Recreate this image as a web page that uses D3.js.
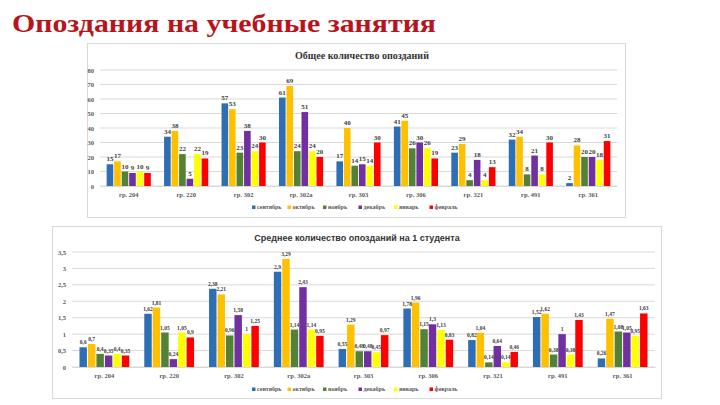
<!DOCTYPE html>
<html>
<head>
<meta charset="utf-8">
<script src="https://cdn.jsdelivr.net/npm/d3@7"></script>
<style>
  body { margin: 0; background: #fff; }
  svg { display: block; }
  .serif { font-family: "Liberation Serif", "DejaVu Serif", "Noto Serif", Tinos, "Times New Roman", Times, serif; }
  .sans { font-family: "Liberation Sans", "DejaVu Sans", sans-serif; }
</style>
</head>
<body>
<svg id="chart" width="720" height="405"></svg>
<script>
// data
const groups = ["гр. 204", "гр. 220", "гр. 302", "гр. 302а", "гр. 303", "гр. 306", "гр. 321", "гр. 491", "гр. 361"];
const months = ["сентябрь", "октябрь", "ноябрь", "декабрь", "январь", "февраль"];
const colors = ["#2e6eb5", "#ffc000", "#548235", "#7030a0", "#ffff00", "#ff0000"];

// total lates, one row per group, months in order
const totals = [
  [15, 17, 10, 9, 10, 9],
  [34, 38, 22, 5, 22, 19],
  [57, 53, 23, 38, 24, 30],
  [61, 69, 24, 51, 24, 20],
  [17, 40, 14, 15, 14, 30],
  [41, 45, 26, 30, 26, 19],
  [23, 29, 4, 18, 4, 13],
  [32, 34, 8, 21, 8, 30],
  [2, 28, 20, 20, 18, 31]
];
const totalTicks = [0, 10, 20, 30, 40, 50, 60, 70, 80];

// average lates per student
const averages = [
  [0.6, 0.7, 0.4, 0.35, 0.4, 0.35],
  [1.62, 1.81, 1.05, 0.24, 1.05, 0.9],
  [2.38, 2.21, 0.96, 1.58, 1, 1.25],
  [2.9, 3.29, 1.14, 2.43, 1.14, 0.95],
  [0.55, 1.29, 0.48, 0.48, 0.45, 0.97],
  [1.78, 1.96, 1.15, 1.3, 1.13, 0.83],
  [0.82, 1.04, 0.14, 0.64, 0.14, 0.46],
  [1.52, 1.62, 0.38, 1, 0.38, 1.43],
  [0.26, 1.47, 1.08, 1.05, 0.95, 1.63]
];
const avgTicks = [0, 0.5, 1, 1.5, 2, 2.5, 3, 3.5];

const svg = d3.select("#chart");
const comma = v => String(v).replace(".", ",");

// page heading, stretched to the width it has in the slide
svg.append("text")
  .attr("class", "serif")
  .attr("x", 12).attr("y", 32)
  .attr("font-weight", "bold")
  .attr("font-size", 25)
  .attr("textLength", 424)
  .attr("lengthAdjust", "spacingAndGlyphs")
  .attr("fill", "#b8141c")
  .text("Опоздания на учебные занятия");

function drawChart(cfg) {
  const g = svg.append("g");

  // frame
  g.append("rect")
    .attr("x", cfg.box[0]).attr("y", cfg.box[1])
    .attr("width", cfg.box[2]).attr("height", cfg.box[3])
    .attr("fill", "#fff").attr("stroke", "#d9d9d9");

  g.append("text")
    .attr("class", cfg.titleClass)
    .attr("x", cfg.titleX).attr("y", cfg.titleY)
    .attr("text-anchor", "middle")
    .attr("font-weight", "bold")
    .attr("font-size", cfg.titleSize)
    .attr("fill", "#333")
    .text(cfg.title);

  const x = d3.scaleBand().domain(groups).range([cfg.left, cfg.right]).paddingInner(0.2).paddingOuter(0.1);
  const xm = d3.scaleBand().domain(months).range([0, x.bandwidth()]).padding(0.12);
  const y = d3.scaleLinear().domain([0, cfg.max]).range([cfg.bottom, cfg.top]);

  // grid
  g.selectAll(".grid").data(cfg.ticks).enter().append("line")
    .attr("x1", cfg.left).attr("x2", cfg.right)
    .attr("y1", d => y(d)).attr("y2", d => y(d))
    .attr("stroke", "#d9d9d9").attr("stroke-width", 1);

  // y axis labels
  const ya = g.append("g").attr("transform", `translate(${cfg.left},0)`)
    .call(d3.axisLeft(y).tickValues(cfg.ticks).tickSize(0).tickPadding(6).tickFormat(cfg.fmt));
  ya.select(".domain").remove();
  ya.attr("font-family", null);
  ya.selectAll("text").attr("class", "serif").attr("font-weight", "bold")
    .attr("font-size", 6.5).attr("fill", "#595959");

  // x axis labels
  const xa = g.append("g").attr("transform", `translate(0,${cfg.bottom})`)
    .call(d3.axisBottom(x).tickSize(0).tickPadding(6));
  xa.select(".domain").attr("stroke", "#d9d9d9");
  xa.attr("font-family", null);
  xa.selectAll("text").attr("class", "serif").attr("font-weight", "bold")
    .attr("font-size", 6.5).attr("fill", "#595959");

  // bars
  const grp = g.selectAll(".grp").data(cfg.data).enter().append("g")
    .attr("transform", (d, i) => `translate(${x(groups[i])},0)`);

  grp.selectAll("rect").data(d => d.map((v, j) => ({ v, j }))).enter().append("rect")
    .attr("x", d => xm(months[d.j]))
    .attr("y", d => y(d.v))
    .attr("width", xm.bandwidth())
    .attr("height", d => cfg.bottom - y(d.v))
    .attr("fill", d => colors[d.j]);

  grp.selectAll(".lbl").data(d => d.map((v, j) => ({ v, j }))).enter().append("text")
    .attr("class", "serif")
    .attr("x", d => xm(months[d.j]) + xm.bandwidth() / 2)
    .attr("y", d => y(d.v) - 3)
    .attr("text-anchor", "middle")
    .attr("font-weight", "bold")
    .attr("font-size", cfg.labelSize)
    .attr("fill", "#404040")
    .text(d => cfg.fmt(d.v));

  // legend
  const lg = g.append("g").attr("transform", `translate(252,${cfg.legendY})`);
  const item = lg.selectAll("g").data(months).enter().append("g")
    .attr("transform", (d, i) => `translate(${i * 35.5},0)`);
  item.append("rect").attr("x", 0).attr("y", -3.5).attr("width", 3.5).attr("height", 3.5)
    .attr("fill", (d, i) => colors[i]);
  item.append("text").attr("class", "serif").attr("x", 5).attr("y", 0)
    .attr("font-weight", "bold")
    .attr("font-size", 6).attr("fill", "#595959")
    .text(d => d);
}

drawChart({
  box: [87.5, 43.5, 538, 174],
  title: "Общее количество опозданий",
  titleX: 362, titleY: 59, titleClass: "serif", titleSize: 10,
  left: 100, right: 617, top: 70, bottom: 186,
  max: 80, ticks: totalTicks, data: totals, fmt: d => String(d), labelSize: 7,
  legendY: 209
});

drawChart({
  box: [52.5, 226.5, 609, 172],
  title: "Среднее количество опозданий на 1 студента",
  titleX: 357, titleY: 241, titleClass: "sans", titleSize: 9,
  left: 72, right: 655, top: 252, bottom: 367,
  max: 3.5, ticks: avgTicks, data: averages, fmt: comma, labelSize: 5.5,
  legendY: 391
});
</script>
</body>
</html>
